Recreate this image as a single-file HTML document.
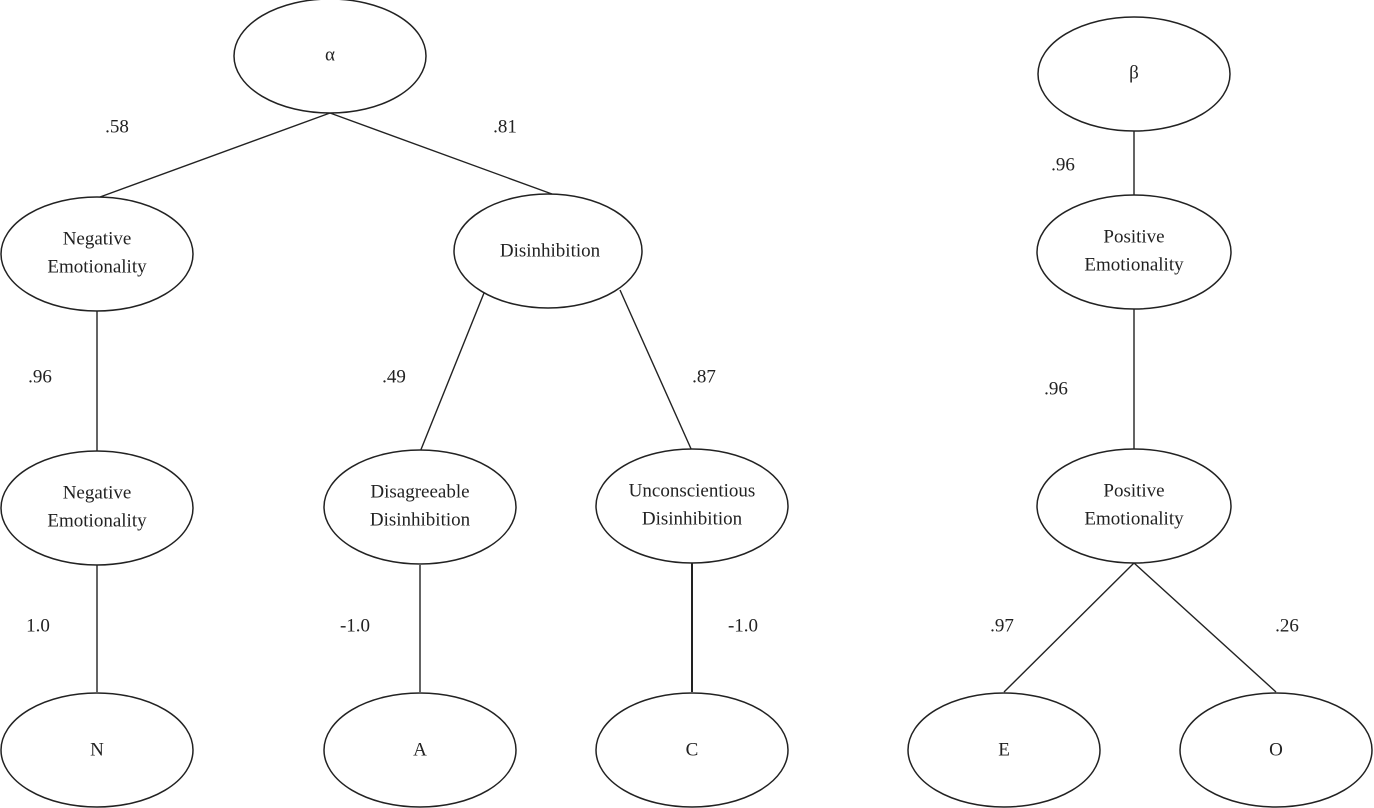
<!DOCTYPE html>
<html><head><meta charset="utf-8"><style>
html,body{margin:0;padding:0;background:#fff}
svg{display:block}
text{font-family:"Liberation Serif",serif;font-size:19px;fill:#222;text-anchor:middle;dominant-baseline:middle}
ellipse{fill:#fff;stroke:#222;stroke-width:1.5}
line{stroke:#222;stroke-width:1.4}
</style></head><body>
<svg width="1374" height="808" viewBox="0 0 1374 808">
<line x1="330" y1="113" x2="100" y2="197"/>
<line x1="330" y1="113" x2="552" y2="194"/>
<line x1="97" y1="310" x2="97" y2="451"/>
<line x1="484" y1="293" x2="420" y2="452"/>
<line x1="620" y1="290" x2="692" y2="451"/>
<line x1="1134" y1="130" x2="1134" y2="195"/>
<line x1="1134" y1="308" x2="1134" y2="450"/>
<line x1="1134" y1="563" x2="1004" y2="692"/>
<line x1="1134" y1="563" x2="1276" y2="692"/>
<line x1="97" y1="565" x2="97" y2="692"/>
<line x1="420" y1="565" x2="420" y2="692"/>
<line x1="692" y1="563" x2="692" y2="692" style="stroke-width:2"/>

<ellipse cx="330" cy="56" rx="96" ry="57"/><text x="330" y="56">α</text>
<ellipse cx="97" cy="254" rx="96" ry="57"/><text x="97" y="240">Negative</text><text x="97" y="268">Emotionality</text>
<ellipse cx="548" cy="251" rx="94" ry="57"/><text x="550" y="252">Disinhibition</text>
<ellipse cx="1134" cy="74" rx="96" ry="57"/><text x="1134" y="74">β</text>
<ellipse cx="1134" cy="252" rx="97" ry="57"/><text x="1134" y="238">Positive</text><text x="1134" y="266">Emotionality</text>
<ellipse cx="97" cy="508" rx="96" ry="57"/><text x="97" y="494">Negative</text><text x="97" y="522">Emotionality</text>
<ellipse cx="420" cy="507" rx="96" ry="57"/><text x="420" y="493">Disagreeable</text><text x="420" y="521">Disinhibition</text>
<ellipse cx="692" cy="506" rx="96" ry="57"/><text x="692" y="492">Unconscientious</text><text x="692" y="520">Disinhibition</text>
<ellipse cx="1134" cy="506" rx="97" ry="57"/><text x="1134" y="492">Positive</text><text x="1134" y="520">Emotionality</text>
<ellipse cx="97" cy="750" rx="96" ry="57"/><text x="97" y="751">N</text>
<ellipse cx="420" cy="750" rx="96" ry="57"/><text x="420" y="751">A</text>
<ellipse cx="692" cy="750" rx="96" ry="57"/><text x="692" y="751">C</text>
<ellipse cx="1004" cy="750" rx="96" ry="57"/><text x="1004" y="751">E</text>
<ellipse cx="1276" cy="750" rx="96" ry="57"/><text x="1276" y="751">O</text>

<text x="117" y="128">.58</text>
<text x="505" y="128">.81</text>
<text x="1063" y="166">.96</text>
<text x="40" y="378">.96</text>
<text x="394" y="378">.49</text>
<text x="704" y="378">.87</text>
<text x="1056" y="390">.96</text>
<text x="38" y="627">1.0</text>
<text x="355" y="627">-1.0</text>
<text x="743" y="627">-1.0</text>
<text x="1002" y="627">.97</text>
<text x="1287" y="627">.26</text>
</svg>
</body></html>
